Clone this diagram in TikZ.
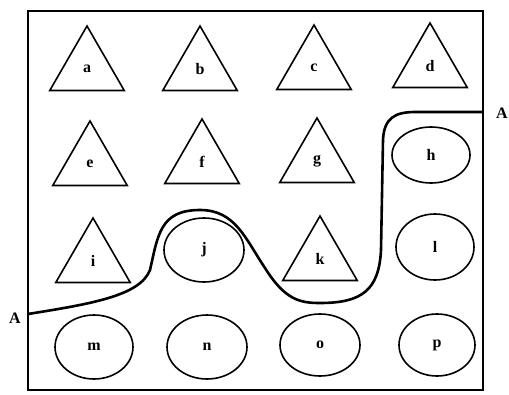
\documentclass[tikz,border=0pt]{standalone}
\usepackage{fontspec}
\setmainfont{Liberation Serif}
\usetikzlibrary{shapes.geometric}
\begin{document}
\begin{tikzpicture}[x=1pt,y=-1pt,
  txt/.style={font=\fontsize{16}{18}\selectfont\bfseries},
  tri/.style={draw,line width=1.6pt,regular polygon,regular polygon sides=3,minimum size=86pt,inner sep=0pt,txt},
  ell/.style={draw,line width=1.6pt,ellipse,inner sep=0pt,txt},
  lab/.style={txt}]
\fill[white] (0,0) rectangle (509,394);
\useasboundingbox (0,0) rectangle (509,394);
\draw[line width=2pt] (28,11) rectangle (483,390);
% triangles
\node[tri] (a) at (87,69) {a};
\node[tri] (b) at (200,69) {b};
\node[tri] (c) at (314,68) {c};
\node[tri] (d) at (430,66) {d};
\node[tri] (e) at (90,164) {e};
\node[tri] (f) at (202,162) {f};
\node[tri] (g) at (317,161) {g};
\node[tri] (i) at (93,261) {i};
\node[tri] (k) at (320,259) {k};
% ellipses
\node[ell,minimum width=78pt,minimum height=56pt] (h) at (431,155) {h};
\node[ell,minimum width=80pt,minimum height=64pt] (j) at (204,250) {j};
\node[ell,minimum width=78pt,minimum height=66pt] (l) at (435,247) {l};
\node[ell,minimum width=78pt,minimum height=64pt] (m) at (94,347) {m};
\node[ell,minimum width=80pt,minimum height=64pt] (n) at (207,347) {n};
\node[ell,minimum width=80pt,minimum height=62pt] (o) at (320,345) {o};
\node[ell,minimum width=76pt,minimum height=62pt] (p) at (437,345) {p};
% labels A
\node[lab] (A1) at (15,318) {A};
\node[lab] (A2) at (502,113) {A};
\coordinate (s) at (28,314);
\coordinate (t) at (483,112);
\draw[line width=2.6pt] (s) .. controls (90,304) and (140,296) .. (150,270)
  .. controls (158,235) and (160,210) .. (200,210)
  .. controls (235,210) and (245,238) .. (265,268)
  .. controls (285,300) and (300,303) .. (320,303)
  .. controls (362,303) and (379,290) .. (381,250)
  -- (383,140) .. controls (384,118) and (395,112) .. (415,112) -- (t);
\end{tikzpicture}
\end{document}
